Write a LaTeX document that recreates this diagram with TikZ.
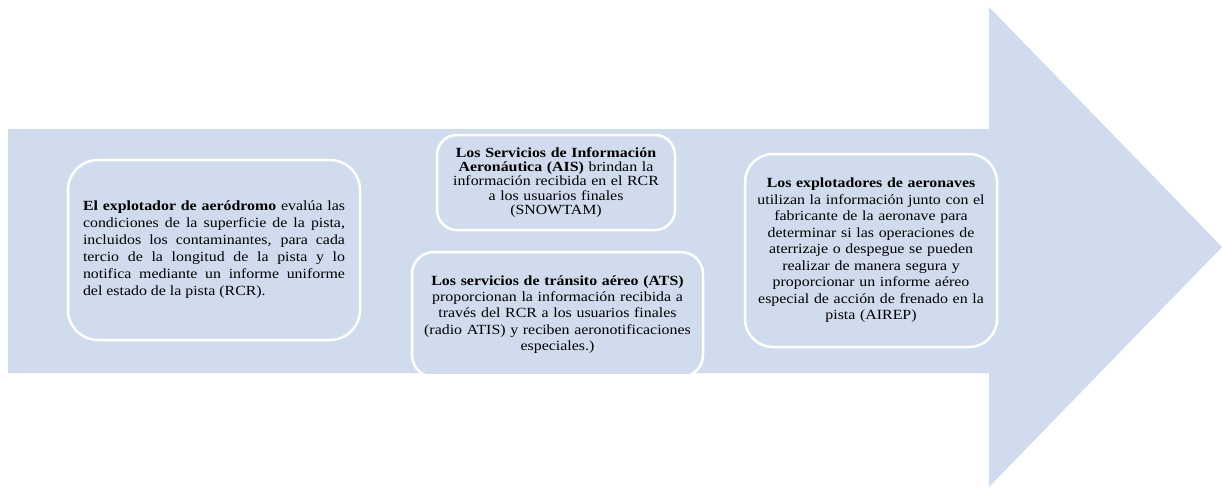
\documentclass[tikz,border=0pt]{standalone}
\usepackage{fontspec}
\setmainfont{Liberation Serif}[FakeStretch=1.135]
\definecolor{arrowblue}{HTML}{D0DBED}
\begin{document}
\begin{tikzpicture}[x=1pt,y=-1pt,
  stagebox/.style={draw=white, line width=2.5pt, fill=arrowblue, inner sep=0pt,
     font=\fontsize{14}{16.4}\selectfont, align=center},
]
\useasboundingbox (0,0) rectangle (1222,488);
\fill[arrowblue] (8,129) -- (989,129) -- (989,7) -- (1222,247) -- (989,487) -- (989,373) -- (8,373) -- cycle;

\node[stagebox, rounded corners=30pt, minimum width=292pt, minimum height=180pt,
      text width=262pt, align=justify, font=\fontsize{14}{17}\selectfont] (b1) at (214,250)
  {\textbf{El explotador de aeródromo} evalúa las\linebreak
   condiciones de la superficie de la pista,\linebreak
   incluidos los contaminantes, para cada\linebreak
   tercio de la longitud de la pista y lo\linebreak
   notifica mediante un informe uniforme\linebreak
   del estado de la pista (RCR).};

\node[stagebox, rounded corners=20pt, minimum width=238pt, minimum height=95pt,
      text width=230pt, font=\fontsize{14}{14.2}\selectfont] (b2) at (556,182.5)
  {\textbf{Los Servicios de Información}\\
   \textbf{Aeronáutica (AIS)} brindan la\\
   información recibida en el RCR\\
   a los usuarios finales\\
   (SNOWTAM)};

\begin{scope}
\clip (0,0) rectangle (1222,373);
\node[stagebox, rounded corners=22pt, minimum width=291pt, minimum height=125pt,
      text width=285pt, font=\fontsize{14}{16.2}\selectfont] (b3) at (557.5,314.5)
  {\textbf{Los servicios de tránsito aéreo (ATS)}\\
   proporcionan la información recibida a\\
   través del RCR a los usuarios finales\\
   (radio ATIS) y reciben aeronotificaciones\\
   especiales.)};
\end{scope}

\node[stagebox, rounded corners=28pt, minimum width=252pt, minimum height=193pt,
      text width=248pt, font=\fontsize{14}{16.5}\selectfont] (b4) at (871,250.5)
  {\textbf{Los explotadores de aeronaves}\\
   utilizan la información junto con el\\
   fabricante de la aeronave para\\
   determinar si las operaciones de\\
   aterrizaje o despegue se pueden\\
   realizar de manera segura y\\
   proporcionar un informe aéreo\\
   especial de acción de frenado en la\\
   pista (AIREP)};
\end{tikzpicture}
\end{document}
